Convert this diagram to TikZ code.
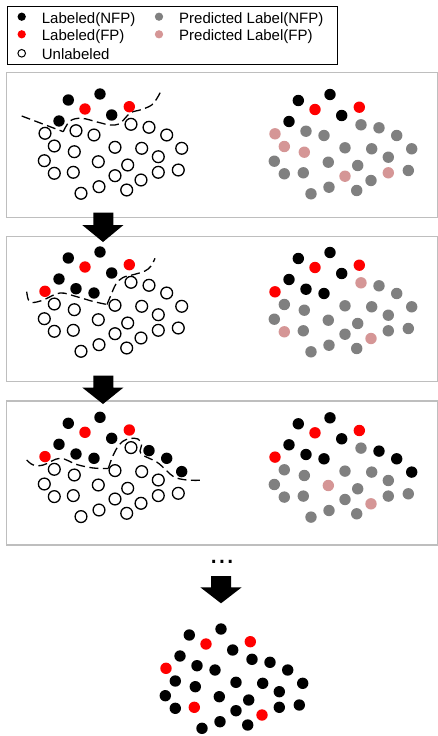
\documentclass[tikz,border=0pt]{standalone}
\usepackage{fontspec}
\setmainfont{Liberation Sans}
\definecolor{dotgray}{RGB}{128,128,128}
\definecolor{dotpink}{RGB}{213,150,150}
\definecolor{panelgray}{RGB}{190,190,190}
\begin{document}
\begin{tikzpicture}[x=1pt,y=-1pt,
  dotbase/.style={circle,inner sep=0pt,minimum size=11.4pt,draw=none},
  dB/.style={dotbase,fill=black},
  dR/.style={dotbase,fill=red},
  dG/.style={dotbase,fill=dotgray},
  dP/.style={dotbase,fill=dotpink},
  dO/.style={circle,inner sep=0pt,minimum size=11.8pt,draw=black,line width=1.3pt,fill=white},
  legB/.style={circle,inner sep=0pt,minimum size=8.3pt,fill=black},
  legR/.style={circle,inner sep=0pt,minimum size=8.3pt,fill=red},
  legG/.style={circle,inner sep=0pt,minimum size=8.3pt,fill=dotgray},
  legP/.style={circle,inner sep=0pt,minimum size=8.3pt,fill=dotpink},
  legO/.style={circle,inner sep=0pt,minimum size=7.6pt,draw=black,line width=1pt},
  legtext/.style={anchor=base west,inner sep=0pt,font=\fontsize{15}{18}\selectfont},
  panelbox/.style={draw=panelgray,line width=1.2pt},
  sepline/.style={draw=black,line width=1.3pt,dash pattern=on 9pt off 4.5pt},
  bigarrow/.style={fill=black}
]
\useasboundingbox (0,0) rectangle (437,736);

% legend
\draw[black,line width=1pt] (7.3,6) rectangle (337.7,64.3);
\node[legB] (lgb) at (21.7,16.7) {};
\node[legR] (lgr) at (21.7,34.3) {};
\node[legO] (lgo) at (21.7,53.3) {};
\node[legG] (lgg) at (159,16.7) {};
\node[legP] (lgp) at (159,34.3) {};
\node[legtext] (tb) at (41.7,23.3) {Labeled(NFP)};
\node[legtext] (tr) at (41.7,40.7) {Labeled(FP)};
\node[legtext] (to) at (41.7,59) {Unlabeled};
\node[legtext] (tg) at (179,23.3) {Predicted Label(NFP)};
\node[legtext] (tp) at (179,40.7) {Predicted Label(FP)};

% panels
\draw[panelbox] (6.7,72.7) rectangle (438,217.7);
\draw[panelbox] (6.7,236.7) rectangle (438,381.7);
\draw[panelbox] (6.7,401) rectangle (438,545);

% separating curves
\draw[sepline] (21.7,116) -- (63.3,131.7);
\draw[sepline] plot[smooth,tension=0.6] coordinates {(63.3,131.7) (70,121) (81.7,118.3) (98.3,122.3) (110,125) (119,124) (125,118.3) (131,112.5) (141.7,109.5) (151.7,105) (157,98.3) (161,91)};
\draw[sepline] plot[smooth,tension=0.6] coordinates {(26.7,291.7) (28.5,300) (33,302.5) (43.3,300) (60,293) (76.7,296.7) (93.3,301.5) (107,304.5)};
\draw[sepline] plot[smooth,tension=0.6] coordinates {(107,304.5) (111,295) (116,284) (123,277.5) (134,274.5) (145,271) (151,266) (155,258.3)};
\draw[sepline] plot[smooth,tension=0.6] coordinates {(26.7,460) (33.3,465) (43.3,465) (60,458.3) (76.7,464.5) (93.3,468) (108.3,468.5)};
\draw[sepline] plot[smooth,tension=0.6] coordinates {(108.3,468.5) (112,458) (117,448) (122.5,441.5) (130,438.5) (138,439) (141.7,444.5) (140,451) (143.5,455.5) (156.7,462) (166,470) (174,477) (186.7,480) (200,480.3)};

% dots of all panels
\foreach \x/\y/\ka/\kb/\kc/\kd/\ke/\kf/\kg [count=\i] in {
68.3/100/dB/dB/dB/dB/dB/dB/dB,
100/94/dB/dB/dB/dB/dB/dB/dB,
111.7/115/dB/dB/dB/dB/dB/dB/dB,
59/121/dB/dB/dB/dB/dB/dB/dB,
85/109/dR/dR/dR/dR/dR/dR/dR,
129.3/106.7/dR/dR/dR/dR/dR/dR/dR,
45/133.3/dO/dP/dR/dR/dR/dR/dR,
76/130.7/dO/dG/dB/dB/dB/dB/dB,
94/135/dO/dG/dB/dB/dB/dB/dB,
131/124.3/dO/dG/dO/dP/dO/dG/dB,
149/127.3/dO/dG/dO/dG/dB/dB/dB,
166.7/135/dO/dG/dO/dG/dB/dB/dB,
54.3/146/dO/dP/dO/dG/dO/dG/dB,
74.3/151.7/dO/dP/dO/dG/dO/dG/dB,
115/147.3/dO/dG/dO/dG/dO/dG/dB,
141.7/148.3/dO/dG/dO/dG/dO/dG/dB,
181.7/148.3/dO/dG/dO/dG/dB/dB/dB,
44.3/160.7/dO/dG/dO/dG/dO/dG/dB,
98.3/161.7/dO/dG/dO/dG/dO/dP/dB,
127.7/165/dO/dG/dO/dG/dO/dG/dB,
158.3/156.7/dO/dG/dO/dG/dO/dG/dB,
54.3/173.3/dO/dG/dO/dP/dO/dG/dB,
73.3/172.3/dO/dG/dO/dG/dO/dG/dR,
115/175.7/dO/dP/dO/dG/dO/dG/dB,
141/180/dO/dG/dO/dP/dO/dP/dR,
158.3/172.3/dO/dP/dO/dG/dO/dG/dB,
178.3/170/dO/dG/dO/dG/dO/dG/dB,
81/193.3/dO/dG/dO/dG/dO/dG/dB,
99/186.7/dO/dG/dO/dG/dO/dG/dB,
126.7/190/dO/dG/dO/dG/dO/dG/dB}{
  \node[\ka] (pa\i) at (\x,\y) {};
  \node[\kb] (pb\i) at (\x+230,\y+0.5) {};
  \node[\kc] (pc\i) at (\x,\y+158) {};
  \node[\kd] (pd\i) at (\x+230,\y+158.5) {};
  \node[\ke] (pe\i) at (\x,\y+323.3) {};
  \node[\kf] (pf\i) at (\x+230,\y+323.8) {};
  \node[\kg] (pg\i) at (\x+121,\y+535) {};
}

% big arrows
\fill[bigarrow] (93.3,212.5) -- (113.3,212.5) -- (113.3,225) -- (123.5,225) -- (103,242) -- (82.2,225) -- (93.3,225) -- cycle;
\fill[bigarrow] (93.3,375.5) -- (113.3,375.5) -- (113.3,387.5) -- (123.5,387.5) -- (103,404) -- (82.2,387.5) -- (93.3,387.5) -- cycle;
\fill[bigarrow] (211,576) -- (231,576) -- (231,587.3) -- (241.7,587.3) -- (221,603.3) -- (200.3,587.3) -- (211,587.3) -- cycle;

% ellipsis
\node[anchor=base,inner sep=0pt,font=\fontsize{30}{30}\selectfont] (ell) at (222,563.7) {...};
\end{tikzpicture}
\end{document}
